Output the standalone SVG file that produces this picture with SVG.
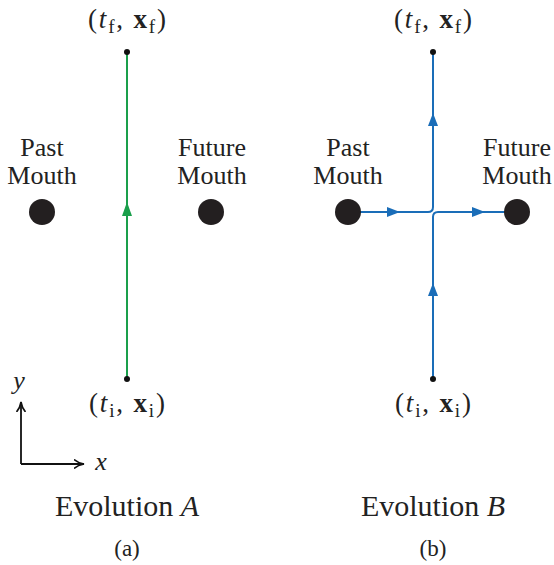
<svg xmlns="http://www.w3.org/2000/svg" width="554" height="565" viewBox="0 0 554 565">
<defs>
<style>
text{font-family:"Liberation Serif","DejaVu Serif",serif;fill:#222;text-anchor:middle}
.lbl{font-size:26px}
.coord{font-size:27px}
.cap{font-size:30px}
.sub{font-size:19px}
.it{font-style:italic}
.bf{font-weight:bold}
.green{stroke:#1a9f4b;stroke-width:2;fill:none}
.blue{stroke:#1a6db8;stroke-width:2;fill:none}
.axis{stroke:#111;stroke-width:1.8;fill:none}
.mouth{fill:#231f20}
.pt{fill:#111}
</style>
<marker id="ax" markerWidth="12" markerHeight="10" refX="10" refY="5" orient="auto" markerUnits="userSpaceOnUse">
<path d="M0,0.5 Q4,4 10,5 Q4,6 0,9.5" fill="none" stroke="#111" stroke-width="1.6"/>
</marker>
</defs>

<g id="panel-a">
<g id="connectors-a">
<line class="green" x1="127" y1="52" x2="127" y2="379"/>
<path d="M127,202 L132,216 L122,216 Z" fill="#1a9f4b"/>
</g>
<g id="a-final"><circle class="pt" cx="127" cy="52" r="3"/>
<text class="coord" x="127" y="28" textLength="78" lengthAdjust="spacing">(<tspan class="it">t</tspan><tspan class="sub" dy="5">f</tspan><tspan dy="-5">, </tspan><tspan class="bf">x</tspan><tspan class="sub" dy="5">f</tspan><tspan dy="-5">)</tspan></text></g>
<g id="a-initial"><circle class="pt" cx="127" cy="379" r="3"/>
<text class="coord" x="127" y="412" textLength="76" lengthAdjust="spacing">(<tspan class="it">t</tspan><tspan class="sub" dy="5">i</tspan><tspan dy="-5">, </tspan><tspan class="bf">x</tspan><tspan class="sub" dy="5">i</tspan><tspan dy="-5">)</tspan></text></g>
<g id="a-past"><circle class="mouth" cx="42" cy="212" r="13"/>
<text class="lbl" x="42" y="156">Past</text><text class="lbl" x="42" y="184">Mouth</text></g>
<g id="a-future"><circle class="mouth" cx="211" cy="212" r="13"/>
<text class="lbl" x="212" y="156">Future</text><text class="lbl" x="212" y="184">Mouth</text></g>
<text class="cap" x="127" y="516">Evolution <tspan class="it">A</tspan></text>
<text x="127" y="556" style="font-size:23px">(a)</text>
</g>

<g id="axes">
<path class="axis" d="M21,464 L21,402" marker-end="url(#ax)"/>
<path class="axis" d="M21,464 L84,464" marker-end="url(#ax)"/>
<text class="it" x="19" y="389" style="font-size:26px">y</text>
<text class="it" x="101" y="470" style="font-size:26px">x</text>
</g>

<g id="panel-b">
<g id="connectors-b">
<path class="blue" d="M348,212 L428,212 Q433,212 433,207 L433,52"/>
<path class="blue" d="M433,379 L433,217 Q433,212 438,212 L517,212"/>
<path d="M400,212 L387,207 L387,217 Z" fill="#1a6db8"/>
<path d="M485,212 L472,207 L472,217 Z" fill="#1a6db8"/>
<path d="M433,113 L438,126 L428,126 Z" fill="#1a6db8"/>
<path d="M433,283 L438,296 L428,296 Z" fill="#1a6db8"/>
</g>
<g id="b-final"><circle class="pt" cx="433" cy="52" r="3"/>
<text class="coord" x="433" y="28" textLength="78" lengthAdjust="spacing">(<tspan class="it">t</tspan><tspan class="sub" dy="5">f</tspan><tspan dy="-5">, </tspan><tspan class="bf">x</tspan><tspan class="sub" dy="5">f</tspan><tspan dy="-5">)</tspan></text></g>
<g id="b-initial"><circle class="pt" cx="433" cy="379" r="3"/>
<text class="coord" x="433" y="412" textLength="76" lengthAdjust="spacing">(<tspan class="it">t</tspan><tspan class="sub" dy="5">i</tspan><tspan dy="-5">, </tspan><tspan class="bf">x</tspan><tspan class="sub" dy="5">i</tspan><tspan dy="-5">)</tspan></text></g>
<g id="b-past"><circle class="mouth" cx="348" cy="212" r="13"/>
<text class="lbl" x="348" y="156">Past</text><text class="lbl" x="348" y="184">Mouth</text></g>
<g id="b-future"><circle class="mouth" cx="517" cy="212" r="13"/>
<text class="lbl" x="517" y="156">Future</text><text class="lbl" x="517" y="184">Mouth</text></g>
<text class="cap" x="433" y="516">Evolution <tspan class="it">B</tspan></text>
<text x="433" y="556" style="font-size:23px">(b)</text>
</g>
</svg>
